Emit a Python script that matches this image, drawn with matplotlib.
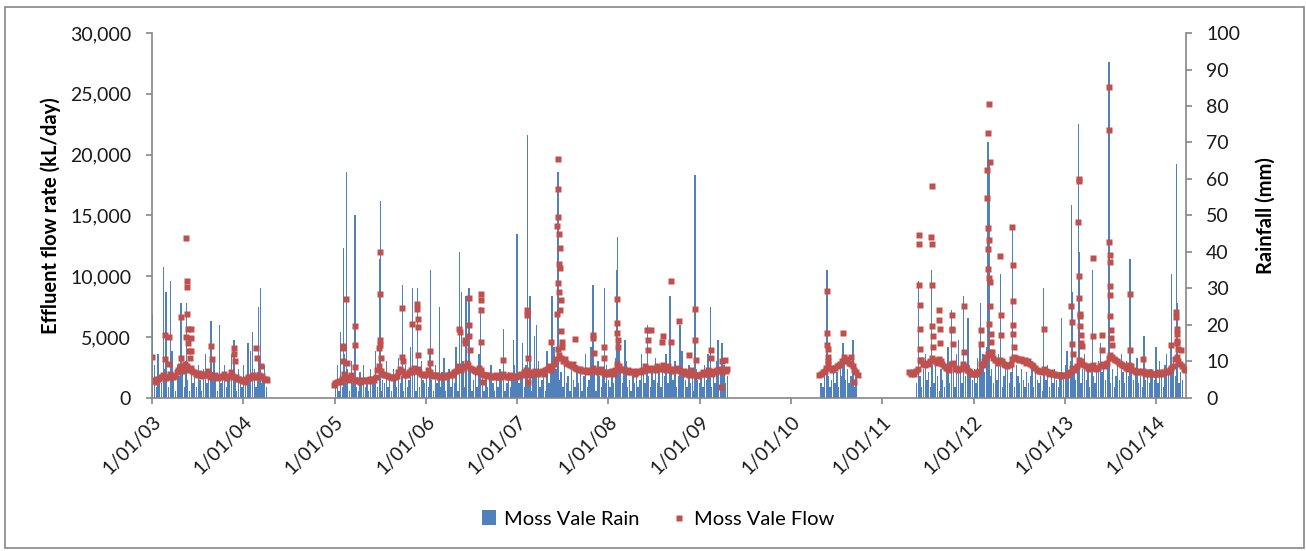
import numpy as np
import pandas as pd
import matplotlib
matplotlib.use('Agg')
import matplotlib.pyplot as plt
import matplotlib.dates as mdates
from matplotlib.ticker import FuncFormatter, MultipleLocator
from matplotlib.patches import Rectangle

plt.rcParams['font.family'] = ['Lato', 'DejaVu Sans']

# effluent flow (kL/day), weekly readings for each logging period
flow_start = ['2003-01-01', '2004-12-28', '2010-04-24', '2011-04-18']
flow_a = [1400, 1500, 1350, 1600, 1550, 1700, 1900, 1800, 1650, 1700, 2000, 1850, 1750,
          1800, 2100, 2300, 2600, 2200, 2400, 2800, 2600, 2300, 2500, 2200, 2100, 2000,
          1900, 2050, 1800, 1950, 1850, 1900, 2200, 1750, 1800, 1700, 1850, 1750, 1650,
          1700, 1800, 2000, 1750, 1650, 1800, 2100, 1900, 1750, 1700, 1600, 1550, 1500,
          1400, 1300, 1600, 1700, 1650, 1800, 1900, 1750, 1700, 1850, 1700, 1800, 1600,
          1550, 1500]
flow_b = [1100, 1250, 1300, 1400, 1350, 1600, 2000, 1700, 1500, 1550, 1900, 1600, 1450,
          1400, 1500, 1350, 1450, 1400, 1500, 1450, 1400, 1550, 1600, 1500, 1700, 2300,
          2600, 2200, 2000, 1900, 1850, 1800, 1700, 1750, 1650, 1700, 1800, 2100, 2400,
          2200, 1900, 2000, 1850, 2100, 2300, 2100, 2500, 2200, 2400, 2100, 2000, 1900, 1850,
          # 2006
          2000, 2300, 2100, 1900, 1800, 1850, 1900, 1750, 1800, 1700, 1800, 1750, 1850,
          1900, 2000, 1850, 2100, 2200, 2600, 2400, 2300, 2500, 2600, 2900, 2700, 2500,
          2400, 2300, 2200, 2100, 2500, 2300, 2000, 1900, 1850, 1800, 1900, 1750, 1800,
          1700, 1850, 1750, 1700, 1900, 2000, 1800, 1750, 1700, 1850, 1700, 1800, 1750,
          # 2007
          1800, 1900, 2000, 1850, 2100, 2300, 2000, 1900, 2100, 2000, 2200, 2100, 2000,
          2100, 2200, 2000, 2300, 2400, 2600, 2300, 2500, 2800, 3200, 4000, 3500, 3300,
          3000, 3200, 2900, 2800, 2700, 2600, 2800, 2500, 2400, 2300, 2400, 2200, 2300,
          2200, 2100, 2300, 2200, 2500, 2300, 2200, 2100, 2200, 2400, 2100, 2000, 2100,
          # 2008
          2000, 2100, 2200, 2000, 2300, 2800, 2600, 2400, 2300, 2400, 2200, 2300, 2100,
          2100, 2200, 2000, 2100, 2200, 2100, 2300, 2200, 2600, 2400, 2500, 2300, 2400,
          2500, 2300, 2600, 2400, 2500, 2700, 2400, 2300, 2600, 2400, 2300, 2200, 2400,
          2300, 2500, 2200, 2100, 2200, 2000, 2100, 1900, 2300, 2000, 1900, 1850, 1800,
          # 2009
          1900, 2000, 2100, 1950, 2000, 2300, 2100, 2000, 2200, 2100, 2300, 2400, 2200,
          2100, 2300, 2200, 2400]
flow_c = [1900, 2000, 2100, 2200, 2500, 2800, 2500, 2300, 2400, 2500, 2600, 2700, 2800,
          3000, 3400, 3200, 3000, 2900, 2800, 2600, 2300, 2100, 1900]
flow_d = [2100, 2000, 2100, 2000, 2200, 2400, 3100, 3000, 2800, 2700, 2900, 2800, 3000,
          3300, 3100, 3000, 2900, 3200, 3000, 2800, 2600, 2500, 2400, 2300, 2800, 2900,
          2500, 2400, 2300, 2400, 2500, 2800, 2600, 2300, 2200, 2100, 2000,
          # 2012
          1950, 2000, 2100, 2200, 2800, 2700, 3000, 3400, 3600, 3800, 3500, 3300, 3100,
          3000, 2900, 3100, 3000, 2800, 2700, 2600, 2700, 2800, 3200, 3400, 3300, 3200,
          3100, 3200, 3000, 3100, 2900, 3000, 2800, 2700, 2600, 2500, 2300, 2200, 2200,
          2100, 2400, 2200, 2100, 2000, 2100, 2000, 1950, 1900, 1900, 1850, 1800, 1900, 1850,
          # 2013
          1900, 2000, 2100, 2500, 2400, 2300, 2600, 3100, 3000, 2800, 2700, 2600, 2500,
          2400, 2600, 2700, 2500, 2400, 2500, 2600, 2800, 2700, 2600, 2900, 3300, 3500,
          3400, 3200, 3100, 3000, 2900, 2800, 2700, 2600, 2500, 2400, 2700, 2600, 2300,
          2200, 2100, 2200, 2100, 2100, 2200, 2000, 2100, 2000, 2100, 2000, 1950, 2000,
          # 2014
          2000, 2100, 2000, 2050, 2100, 2200, 2100, 2300, 2500, 2600, 3200, 3400, 3000,
          2800, 2600, 2400, 2300]

# daily flows on and after storm events
flow_peak_dates = [
    '2003-01-01', '2003-02-20', '2003-02-22', '2003-03-08', '2003-03-10', '2003-04-25',
    '2003-04-27', '2003-05-17', '2003-05-18', '2003-05-19', '2003-05-20', '2003-05-21',
    '2003-05-23', '2003-05-25', '2003-05-28', '2003-06-02', '2003-06-05', '2003-06-06',
    '2003-06-07', '2003-08-25', '2003-08-27', '2003-11-24', '2003-11-26', '2003-11-28',
    '2004-02-22', '2004-02-25', '2004-03-12',
    '2005-02-03', '2005-02-04', '2005-02-05', '2005-02-17', '2005-02-18', '2005-03-22',
    '2005-03-23', '2005-03-25', '2005-06-29', '2005-06-30', '2005-07-01', '2005-07-02',
    '2005-07-03', '2005-07-05', '2005-09-28', '2005-09-29', '2005-09-30', '2005-11-07',
    '2005-11-27', '2005-11-28', '2005-11-29', '2005-11-30', '2005-12-02', '2006-01-16',
    '2006-01-17', '2006-05-15', '2006-05-16', '2006-06-07', '2006-06-08', '2006-06-22',
    '2006-06-23', '2006-06-24', '2006-06-26', '2006-08-08', '2006-08-09', '2006-08-10',
    '2006-08-11', '2006-08-18', '2006-11-05', '2007-02-10', '2007-02-11', '2007-02-12',
    '2007-02-14', '2007-05-18', '2007-06-08', '2007-06-09', '2007-06-12', '2007-06-13',
    '2007-06-14', '2007-06-15', '2007-06-16', '2007-06-17', '2007-06-19', '2007-06-20',
    '2007-06-21', '2007-06-23', '2007-06-24', '2007-06-26', '2007-06-28', '2007-06-30',
    '2007-08-19', '2007-11-01', '2007-11-02', '2007-11-04', '2007-12-14', '2007-12-15',
    '2008-02-04', '2008-02-05', '2008-02-06', '2008-02-08', '2008-02-10', '2008-06-04',
    '2008-06-06', '2008-06-09', '2008-06-20', '2008-08-03', '2008-08-06', '2008-09-06',
    '2008-09-07', '2008-10-11', '2008-11-20', '2008-12-12', '2008-12-13', '2008-12-15',
    '2009-02-14', '2009-02-15', '2009-03-28', '2009-03-29', '2009-04-12',
    '2010-05-24', '2010-05-25', '2010-05-26', '2010-05-27', '2010-05-28', '2010-05-30',
    '2010-07-28', '2010-08-30', '2010-09-10',
    '2011-05-27', '2011-05-28', '2011-05-29', '2011-05-30', '2011-05-31', '2011-06-02',
    '2011-06-04', '2011-07-16', '2011-07-17', '2011-07-18', '2011-07-19', '2011-07-20',
    '2011-07-21', '2011-07-23', '2011-08-16', '2011-08-17', '2011-08-18', '2011-08-20',
    '2011-10-05', '2011-10-06', '2011-10-07', '2011-10-09', '2011-11-23', '2011-11-24',
    '2012-01-29', '2012-01-31', '2012-02-24', '2012-02-25', '2012-02-26', '2012-02-27',
    '2012-02-28', '2012-02-29', '2012-03-01', '2012-03-02', '2012-03-03', '2012-03-04',
    '2012-03-05', '2012-03-06', '2012-03-07', '2012-03-09', '2012-03-11', '2012-03-14',
    '2012-04-17', '2012-04-18', '2012-04-19', '2012-06-04', '2012-06-05', '2012-06-06',
    '2012-06-07', '2012-06-08', '2012-06-10', '2012-10-08', '2013-01-26', '2013-01-27',
    '2013-01-29', '2013-01-31', '2013-02-23', '2013-02-24', '2013-02-25', '2013-02-26',
    '2013-02-27', '2013-02-28', '2013-03-01', '2013-03-02', '2013-03-04', '2013-03-06',
    '2013-03-08', '2013-04-21', '2013-04-22', '2013-05-27', '2013-05-29', '2013-06-25',
    '2013-06-26', '2013-06-27', '2013-06-28', '2013-06-29', '2013-06-30', '2013-07-01',
    '2013-07-02', '2013-07-04', '2013-07-06', '2013-07-08', '2013-09-17', '2013-09-18',
    '2013-11-10', '2014-02-28', '2014-03-22', '2014-03-23', '2014-03-24', '2014-03-25',
    '2014-03-26', '2014-03-27', '2014-03-29', '2014-04-10']
flow_peak_vals = [
    3370, 5180, 3200, 5050, 2800, 3300,
    6650, 13150, 5000, 9600, 9100, 6900,
    5700, 4500, 3900, 3300, 3900, 5700,
    4950, 4300, 3200, 4100, 3600, 3000,
    4100, 3300, 2600,
    3000, 4300, 4100, 8140, 2900, 4350,
    5900, 2570, 4100, 12030, 8530, 4800,
    4350, 3300, 7400, 3400, 3000, 6100,
    7700, 7300, 6500, 5800, 3500, 3900,
    2870, 5650, 5430, 4770, 4500, 8240,
    6000, 5100, 3950, 8520, 8050, 7230,
    4600, 1300, 3120, 7230, 6820, 3300,
    1340, 4630, 14160, 6900, 9450, 19640,
    17150, 14900, 13450, 8700, 10990, 10680,
    7230, 12300, 8050, 5500, 4630, 4220,
    4820, 5200, 4900, 3700, 4220, 3300,
    8110, 6160, 5340, 4770, 4220, 5590,
    4770, 3950, 5590, 4630, 5100, 9620,
    4630, 6360, 3560, 7290, 4770, 3150,
    3950, 3290, 930, 3040, 3120,
    4350, 8800, 5340, 4000, 3400, 3000,
    5340, 3400, 1340,
    13370, 9280, 12620, 7630, 5650, 4060,
    3100, 13250, 17430, 12620, 9280, 5900,
    5080, 4200, 7220, 6450, 5700, 4530,
    6800, 5700, 5600, 4400, 7550, 3800,
    4470, 5570, 16420, 18750, 21820, 13940,
    12270, 10570, 9880, 24180, 12990, 6120,
    19380, 9550, 7580, 5300, 4600, 3790,
    11660, 6800, 5160, 14080, 10920, 7960,
    5980, 5300, 4200, 5710, 7600, 6260,
    4470, 3650, 14440, 18000, 17800, 10020,
    8230, 6940, 6720, 5900, 5160, 4530,
    4250, 11470, 5080, 5160, 3930, 12850,
    25530, 22040, 11750, 11200, 9220, 8450,
    6720, 5570, 4890, 4340, 8510, 3980,
    3240, 4340, 7080, 6670, 5710, 5300,
    4690, 4530, 4060, 3920]

# rainfall (mm), largest daily fall in each week
rain_start = ['2003-01-04', '2005-01-04', '2010-05-01', '2011-05-18']
rain_a = [5, 9, 3, 12, 6, 4, 15, 8, 11, 3, 7, 13, 5, 2, 9, 6, 4, 8, 3, 10, 5, 2, 7, 4, 6,
          3, 9, 5, 2, 8, 12, 4, 6, 3, 7, 10, 5, 2, 8, 4, 6, 9, 3, 5, 7, 12, 4, 6, 2, 8, 5,
          3, 9, 4, 11, 6, 13, 5, 8, 3, 7, 10, 4, 6, 9, 3]
rain_b = [4, 9, 2, 6, 3, 12, 5, 8, 2, 10, 4, 6, 3, 2, 7, 4, 9, 3, 5, 2, 8, 4, 6, 13, 3, 7,
          2, 5, 4, 10, 3, 6, 2, 8, 5, 3, 11, 4, 6, 2, 9, 3, 5, 14, 4, 7, 2, 6, 3, 10, 5, 4,
          8, 3, 12, 5, 2, 9, 4, 6, 3, 7, 11, 2, 5, 8, 3, 6, 4, 14, 2, 7, 5, 10, 3, 6, 4, 9,
          2, 5, 8, 3, 12, 4, 6, 2, 7, 3, 5, 9, 4, 2, 6, 3, 8, 5, 11, 2, 4, 7, 3, 6, 9, 5,
          12, 4, 7, 15, 3, 9, 5, 11, 2, 6, 8, 4, 10, 3, 5, 7, 2, 13, 4, 9, 6, 14, 8, 11, 5,
          7, 3, 10, 4, 6, 2, 8, 5, 3, 9, 4, 7, 2, 6, 12, 3, 5, 14, 4, 8, 2, 10, 6, 3, 7, 4, 9,
          5, 3, 8, 4, 11, 6, 15, 9, 4, 7, 10, 3, 5, 2, 6, 4, 8, 3, 5, 12, 7, 4, 9, 6, 3, 8,
          5, 11, 4, 7, 3, 9, 6, 12, 4, 2, 8, 5, 10, 3, 6, 4, 13, 7, 5, 3, 9, 4, 6, 2, 8, 5,
          4, 7, 3, 9, 5, 12, 6, 3, 8, 4, 10, 5, 7, 3, 9, 4, 6]
rain_c = [4, 3, 8, 12, 6, 3, 5, 9, 4, 7, 3, 10, 6, 11, 5, 8, 4, 6, 9, 3, 7]
rain_d = [4, 10, 6, 3, 8, 12, 5, 7, 3, 9, 4, 11, 6, 2, 8, 5, 3, 7, 14, 4, 6, 9, 3, 12, 5,
          8, 4, 10, 6, 3, 9, 7,
          5, 8, 4, 11, 15, 9, 12, 7, 14, 10, 6, 8, 4, 9, 5, 12, 7, 3, 6, 10, 8, 4, 7, 5, 3,
          9, 6, 4, 8, 5, 3, 7, 4, 6, 10, 3, 8, 5, 4, 6, 2, 7, 5, 9, 3, 6, 4, 8, 5, 3, 7, 4,
          6, 9, 13, 7, 10, 14, 8, 5, 11, 6, 4, 8, 12, 5, 7, 3, 9, 6, 4, 8, 10, 15, 7, 9, 5,
          11, 6, 4, 8, 3, 6, 9, 5, 12, 7, 4, 10, 6, 3, 8, 5, 7, 11, 4, 6, 3, 9, 5, 7, 4, 8, 6,
          5, 8, 4, 10, 6, 3, 9, 12, 7, 15, 8, 11, 6, 9, 4, 7, 5]

# big falls (mm)
rain_event_dates = [
    '2003-01-02', '2003-02-16', '2003-02-26', '2003-03-15', '2003-04-27', '2003-05-19',
    '2003-08-25', '2003-09-29', '2003-11-25', '2004-01-20', '2004-02-08', '2004-03-01',
    '2004-03-10',
    '2005-01-25', '2005-02-04', '2005-02-17', '2005-03-23', '2005-06-30', '2005-07-02',
    '2005-09-28', '2005-11-07', '2005-11-27', '2006-01-19', '2006-02-24', '2006-05-15',
    '2006-05-24', '2006-06-10', '2006-06-22', '2006-08-08', '2006-11-07', '2006-12-17',
    '2007-01-01', '2007-02-12', '2007-02-21', '2007-03-12', '2007-03-20', '2007-05-21',
    '2007-06-12', '2007-06-13', '2007-11-01', '2007-12-17', '2008-02-04', '2008-02-07',
    '2008-03-08', '2008-06-05', '2008-09-04', '2008-10-13', '2008-12-13', '2009-02-13',
    '2009-03-15', '2009-03-30',
    '2010-05-25', '2010-05-26', '2010-07-27', '2010-09-06',
    '2011-05-27', '2011-07-16', '2011-10-05', '2011-11-02', '2011-11-23', '2011-12-10',
    '2012-01-29', '2012-02-26', '2012-03-02', '2012-03-05', '2012-04-17', '2012-06-04',
    '2012-10-08', '2012-12-19', '2013-01-27', '2013-01-29', '2013-02-24', '2013-02-26',
    '2013-04-22', '2013-06-26', '2013-09-18', '2013-11-13', '2013-12-31', '2014-03-02',
    '2014-03-24', '2014-03-25']
rain_event_vals = [
    23, 36, 29, 32, 26, 26,
    21, 20, 16, 15, 18, 25,
    30,
    18, 41, 62, 50, 38, 54,
    31, 30, 30, 35, 25, 40,
    29, 28, 30, 25, 19, 16,
    45, 72, 28, 17, 20, 28,
    46, 62, 31, 30, 35, 44,
    16, 20, 28, 20, 61, 25,
    16, 15,
    35, 21, 15, 16,
    32, 35, 24, 16, 28, 22,
    26, 70, 70, 64, 34, 47,
    30, 22, 53, 29, 75, 40,
    35, 92, 38, 17, 14, 34,
    64, 26]


def weekly(start, vals):
    days = pd.Timestamp(start) + pd.to_timedelta(7 * np.arange(len(vals)), unit='D')
    return mdates.date2num(days.to_pydatetime())


flow_x = np.concatenate([weekly(s, v) for s, v in zip(flow_start, [flow_a, flow_b, flow_c, flow_d])]
                        + [mdates.date2num(pd.to_datetime(flow_peak_dates).to_pydatetime())])
flow_y = np.concatenate([flow_a, flow_b, flow_c, flow_d, flow_peak_vals])
rain_x = np.concatenate([weekly(s, v) for s, v in zip(rain_start, [rain_a, rain_b, rain_c, rain_d])]
                        + [mdates.date2num(pd.to_datetime(rain_event_dates).to_pydatetime())])
rain_y = np.concatenate([rain_a, rain_b, rain_c, rain_d, rain_event_vals])

grey = '#868686'
fig = plt.figure(figsize=(13.06, 5.51), dpi=100)
ax = fig.add_axes([0.1164, 0.2777, 0.7917, 0.6624])
ax2 = ax.twinx()

# bar width in days
bars = ax2.bar(rain_x, rain_y, width=5.5, color='#4F81BD', linewidth=0, label='Moss Vale Rain')
pts, = ax.plot(flow_x, flow_y, 's', ms=4.3, color='#C0504D', mec='none', label='Moss Vale Flow')
# flow markers sit on top of the rain bars
ax.set_zorder(ax2.get_zorder() + 1)
ax.patch.set_visible(False)

ax.set_xlim(mdates.date2num(pd.Timestamp('2003-01-01')), mdates.date2num(pd.Timestamp('2014-04-30')))
ax.set_ylim(0, 30000)
ax2.set_ylim(0, 100)
ax.yaxis.set_major_locator(MultipleLocator(5000))
ax.yaxis.set_major_formatter(FuncFormatter(lambda v, p: '{:,.0f}'.format(v)))
ax2.yaxis.set_major_locator(MultipleLocator(10))
ax.xaxis.set_major_locator(mdates.YearLocator())
ax.xaxis.set_major_formatter(FuncFormatter(
    lambda v, p: '{}/{:02d}/{:02d}'.format(mdates.num2date(v).day, mdates.num2date(v).month,
                                           mdates.num2date(v).year % 100)))

for a in (ax, ax2):
    a.spines['top'].set_visible(False)
    for sp in a.spines.values():
        sp.set_color(grey)
        sp.set_linewidth(1.2)
ax.spines['right'].set_visible(False)
ax2.spines['left'].set_visible(False)
ax2.spines['bottom'].set_visible(False)

ax.tick_params(axis='x', direction='out', length=4.5, width=1.2, color=grey,
               labelsize=14, labelcolor='#1a1a1a', pad=6)
ax.tick_params(axis='y', direction='out', length=4.5, width=1.2, color=grey,
               labelsize=14, labelcolor='#1a1a1a', pad=10.5)
ax2.tick_params(axis='y', direction='out', length=4.5, width=1.2, color=grey,
                labelsize=14, labelcolor='#1a1a1a', pad=10)
plt.setp(ax.get_xticklabels(), rotation=45, ha='right', rotation_mode='anchor')

ax.set_ylabel('Effluent flow rate (kL/day)', fontsize=14.5, fontweight='bold')
ax.yaxis.set_label_coords(-0.088, 0.5)
ax2.set_ylabel('Rainfall (mm)', fontsize=14.5, fontweight='bold')
ax2.yaxis.set_label_coords(1.0677, 0.5)

fig.legend([bars, pts], ['Moss Vale Rain', 'Moss Vale Flow'], loc='center',
           bbox_to_anchor=(0.504, 0.058), ncol=2, frameon=False, fontsize=14.5,
           handlelength=0.7, handleheight=0.7, handletextpad=0.4, columnspacing=1.6,
           numpoints=1)

fig.patches.append(Rectangle((0.0038, 0.0054), 0.9946, 0.981, transform=fig.transFigure,
                             fill=False, edgecolor=grey, linewidth=1.2))

fig.savefig('out.png', dpi=100)
